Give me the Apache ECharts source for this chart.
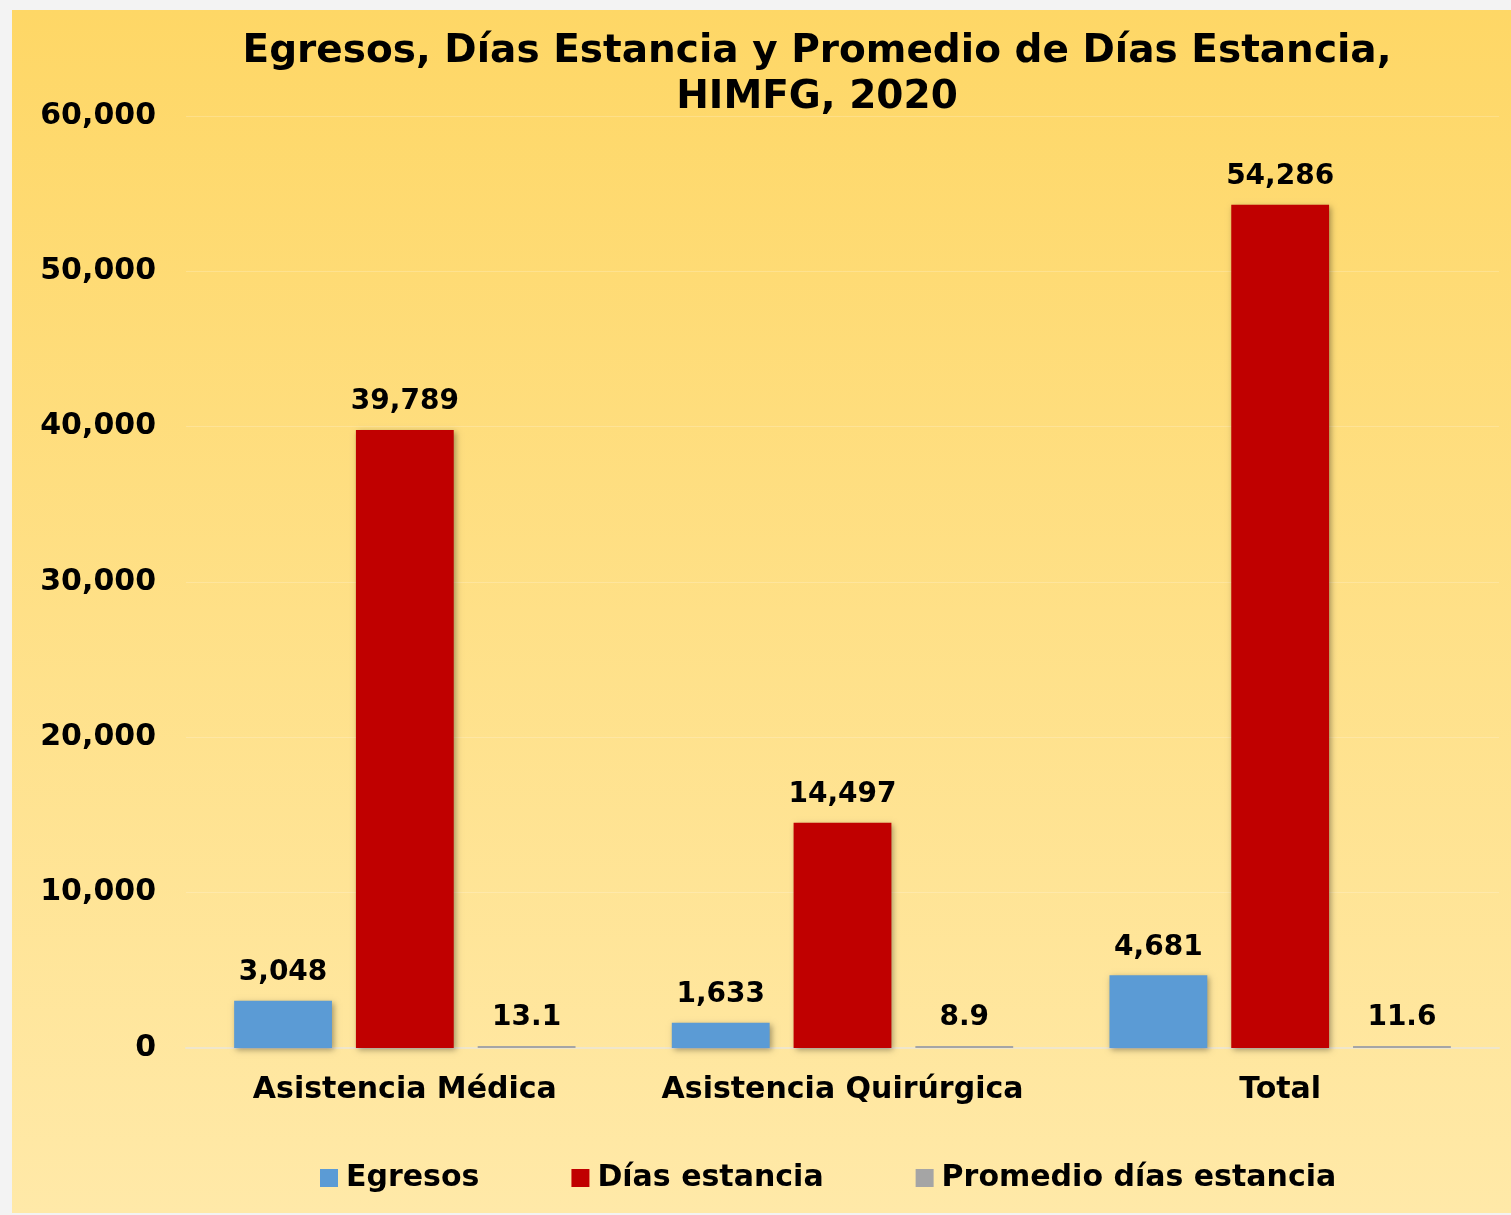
<!DOCTYPE html>
<html>
<head>
<meta charset="utf-8">
<script src="https://cdn.jsdelivr.net/npm/echarts@6/dist/echarts.min.js"></script>
<style>
  html, body { margin: 0; padding: 0; background: #f3f3f3; }
  #chart { width: 1511px; height: 1215px; }
</style>
</head>
<body>
<div id="chart"></div>
<script>
const categories = ['Asistencia Médica', 'Asistencia Quirúrgica', 'Total'];
const egresos = [3048, 1633, 4681];
const diasEstancia = [39789, 14497, 54286];
const promedioDias = [13.1, 8.9, 11.6];
const seriesNames = ['Egresos', 'Días estancia', 'Promedio días estancia'];
const seriesColors = ['#5B9BD5', '#C00000', '#A5A5A5'];

const font = 'DejaVu Sans';

const myChart = echarts.init(document.getElementById('chart'), null, { renderer: 'canvas' });

const labelStyle = (decimals, distance) => ({
  show: true,
  position: 'top',
  distance: distance,
  fontFamily: font,
  fontWeight: 'bold',
  fontSize: 28,
  color: '#000',
  formatter: (p) => decimals
    ? p.value.toFixed(decimals)
    : p.value.toLocaleString('en-US')
});

const barShadow = {
  shadowBlur: 6,
  shadowColor: 'rgba(0,0,0,0.35)',
  shadowOffsetX: 2,
  shadowOffsetY: 2
};

const option = {
  backgroundColor: '#f3f3f3',
  graphic: [{
    type: 'rect',
    z: -10,
    silent: true,
    shape: { x: 12, y: 10, width: 1499, height: 1203 },
    style: {
      fill: new echarts.graphic.LinearGradient(0, 0, 0, 1, [
        { offset: 0, color: '#FED766' },
        { offset: 1, color: '#FFE9A8' }
      ])
    }
  }],
  title: {
    text: 'Egresos, Días Estancia y Promedio de Días Estancia,\nHIMFG, 2020',
    left: 812,
    textAlign: 'center',
    top: 24,
    textStyle: {
      fontFamily: font,
      fontWeight: 'bold',
      fontSize: 39,
      lineHeight: 46,
      color: '#000'
    }
  },
  legend: {
    left: 315,
    top: 1158,
    itemWidth: 18,
    itemHeight: 18,
    itemGap: 92,
    icon: 'rect',
    textStyle: {
      fontFamily: font,
      fontWeight: 'bold',
      fontSize: 30,
      color: '#000',
      padding: [0, 0, 0, 3]
    },
    data: seriesNames
  },
  grid: {
    left: 186,
    right: 12,
    top: 116,
    bottom: 167
  },
  xAxis: {
    type: 'category',
    data: categories,
    axisLine: { lineStyle: { color: '#EFE6CB', width: 2 } },
    axisTick: { show: false },
    axisLabel: {
      interval: 0,
      margin: 27,
      fontFamily: font,
      fontWeight: 'bold',
      fontSize: 30,
      color: '#000'
    }
  },
  yAxis: {
    type: 'value',
    min: 0,
    max: 60000,
    interval: 10000,
    axisLine: { show: false },
    axisTick: { show: false },
    splitLine: { lineStyle: { color: 'rgba(255,255,255,0.2)' } },
    axisLabel: {
      margin: 30,
      fontFamily: font,
      fontWeight: 'bold',
      fontSize: 30,
      color: '#000',
      formatter: (v) => v.toLocaleString('en-US')
    }
  },
  series: [
    {
      name: seriesNames[0],
      type: 'bar',
      data: egresos,
      barGap: '24.5%',
      barCategoryGap: '22%',
      itemStyle: Object.assign({ color: seriesColors[0] }, barShadow),
      label: labelStyle(0, 14)
    },
    {
      name: seriesNames[1],
      type: 'bar',
      data: diasEstancia,
      itemStyle: Object.assign({ color: seriesColors[1] }, barShadow),
      label: labelStyle(0, 14)
    },
    {
      name: seriesNames[2],
      type: 'bar',
      data: promedioDias,
      barMinHeight: 2,
      itemStyle: { color: seriesColors[2] },
      label: labelStyle(1, 14)
    }
  ]
};

myChart.setOption(option);
</script>
</body>
</html>
